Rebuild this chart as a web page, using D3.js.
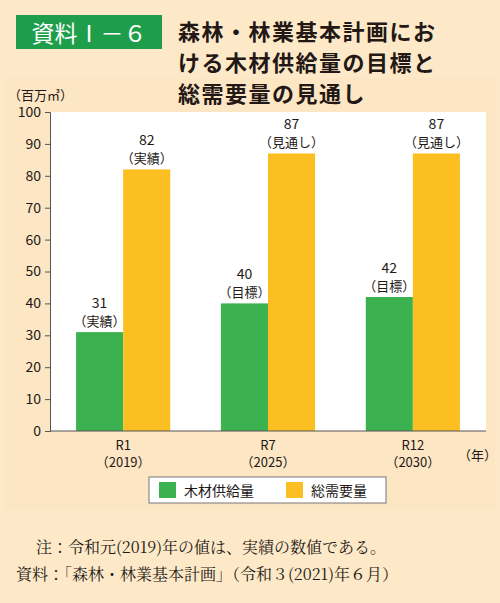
<!DOCTYPE html>
<html><head><meta charset="utf-8">
<script src="https://cdn.jsdelivr.net/npm/d3@7"></script>
<style>body{margin:0;background:#fde9c8}</style>
</head><body><div id="chart"></div>
<script>
const categories = ["R1", "R7", "R12"];
const years = ["（2019）", "（2025）", "（2030）"];
const supply = [31, 40, 42];
const supplyNotes = ["（実績）", "（目標）", "（目標）"];
const demand = [82, 87, 87];
const demandNotes = ["（実績）", "（見通し）", "（見通し）"];
const yTicks = [0, 10, 20, 30, 40, 50, 60, 70, 80, 90, 100];
const seriesNames = ["木材供給量", "総需要量"];
const colors = ["#3cb14f", "#fbbf22"];

const font = "'Noto Sans CJK JP', sans-serif";
const svg = d3.select('#chart').append('svg').attr('width', 500).attr('height', 603)
  .style('font-family', font);

svg.append('rect').attr('width', 500).attr('height', 603).attr('fill', '#fde9c8');
svg.append('rect').attr('x', 5).attr('y', 78).attr('width', 490).attr('height', 432).attr('fill', '#fce6c4');

// header
svg.append('rect').attr('x', 16).attr('y', 15).attr('width', 146).attr('height', 34).attr('fill', '#1e9e4a');
svg.append('text').attr('x', 89).attr('y', 42).attr('text-anchor', 'middle').attr('fill', '#fff')
  .style('font-size', '23px').text('資料Ⅰ－６');
["森林・林業基本計画にお", "ける木材供給量の目標と", "総需要量の見通し"].forEach((t, i) => {
  svg.append('text').attr('x', 178).attr('y', 40 + i * 31).attr('fill', '#231815')
    .style('font-size', '22px').style('font-weight', 'bold').style('letter-spacing', '1.5px').text(t);
});

const pLeft = 50, pRight = 486, pTop = 112, pBottom = 431;
svg.append('rect').attr('x', pLeft).attr('y', pTop).attr('width', pRight - pLeft).attr('height', pBottom - pTop).attr('fill', '#fff');

const y = d3.scaleLinear().domain([0, 100]).range([pBottom, pTop]);
const x = d3.scaleBand().domain(categories).range([pLeft, pRight]).paddingInner(0.35).paddingOuter(0.18);
const bw = x.bandwidth() / 2;

const yAxis = svg.append('g').attr('transform', `translate(${pLeft},0)`)
  .call(d3.axisLeft(y).tickValues(yTicks).tickSize(5).tickPadding(4));
yAxis.select('.domain').attr('stroke', '#555');
yAxis.selectAll('line').attr('stroke', '#555');
yAxis.selectAll('text').style('font-size', '14px').style('font-family', font).attr('fill', '#231815');
svg.append('text').attr('x', 8).attr('y', 100).style('font-size', '13px').attr('fill', '#231815').text('（百万㎥）');

categories.forEach((c, i) => {
  const x0 = x(c);
  [[supply[i], supplyNotes[i], 0], [demand[i], demandNotes[i], 1]].forEach(([v, note, k]) => {
    const bx = x0 + k * bw;
    svg.append('rect').attr('x', bx).attr('y', y(v)).attr('width', bw).attr('height', y(0) - y(v)).attr('fill', colors[k]);
    svg.append('text').attr('x', bx + bw / 2).attr('y', y(v) - 24).attr('text-anchor', 'middle')
      .style('font-size', '14px').attr('fill', '#231815').text(v);
    svg.append('text').attr('x', bx + bw / 2).attr('y', y(v) - 6).attr('text-anchor', 'middle')
      .style('font-size', '13px').attr('fill', '#231815').text(note);
  });
  svg.append('text').attr('x', x0 + bw).attr('y', 450).attr('text-anchor', 'middle').style('font-size', '13px').attr('fill', '#231815').text(c);
  svg.append('text').attr('x', x0 + bw).attr('y', 467).attr('text-anchor', 'middle').style('font-size', '13px').attr('fill', '#231815').text(years[i]);
});
svg.append('line').attr('x1', pLeft).attr('x2', pRight).attr('y1', pBottom).attr('y2', pBottom).attr('stroke', '#555');
svg.append('text').attr('x', 458).attr('y', 460).style('font-size', '13px').attr('fill', '#231815').text('（年）');

// legend
svg.append('rect').attr('x', 149).attr('y', 477).attr('width', 237).attr('height', 26).attr('fill', '#fff').attr('stroke', '#777');
seriesNames.forEach((n, i) => {
  const lx = 159 + i * 127;
  svg.append('rect').attr('x', lx).attr('y', 482).attr('width', 17).attr('height', 16).attr('fill', colors[i]);
  svg.append('text').attr('x', lx + 25).attr('y', 496).style('font-size', '14px').attr('fill', '#231815').text(n);
});

// notes
const serif = "'Noto Serif CJK JP', 'Noto Sans CJK JP', serif";
svg.append('text').attr('x', 36).attr('y', 553).style('font-size', '16px').style('font-family', serif).attr('fill', '#231815')
  .text('注：令和元(2019)年の値は、実績の数値である。');
svg.append('text').attr('x', 16).attr('y', 580).style('font-size', '16px').style('font-family', serif).attr('fill', '#231815')
  .text('資料：「森林・林業基本計画」（令和３(2021)年６月）');
</script></body></html>
